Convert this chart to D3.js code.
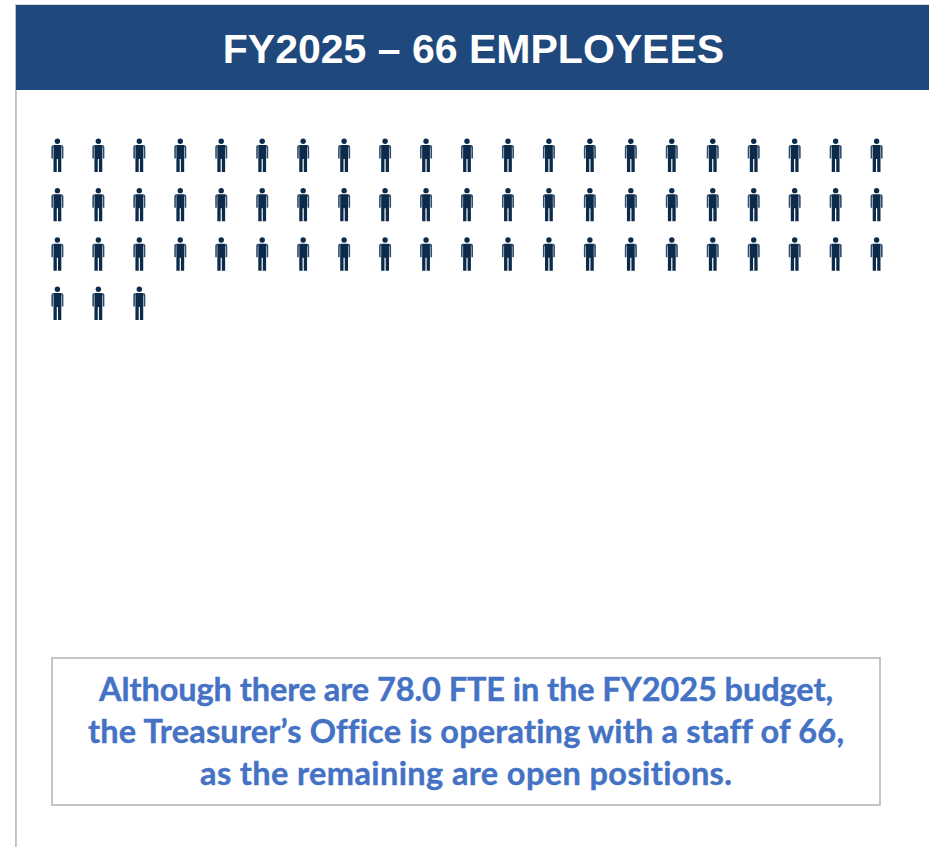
<!DOCTYPE html>
<html lang="en">
<head>
    <meta charset="UTF-8">
    <title>FY2025 Employees</title>
    <script src="https://cdnjs.cloudflare.com/ajax/libs/d3/7.8.5/d3.min.js"></script>
    <style>
        html, body { margin: 0; padding: 0; background: #fff; overflow: hidden; }
        svg { display: block; }
    </style>
</head>
<body>
    <script>
        const title = 'FY2025 \u2013 66 EMPLOYEES';
        const employees = 66;
        const perRow = 21;
        const noteLines = [
            'Although there are 78.0 FTE in the FY2025 budget,',
            'the Treasurer\u2019s Office is operating with a staff of 66,',
            'as the remaining are open positions.'
        ];

        const width = 929;
        const height = 847;
        // measured widths of the note lines, Lato runs a bit different from the original font
        const noteLengths = [734, 756, 532];

        const svg = d3.select('body').append('svg')
            .attr('width', width)
            .attr('height', height);

        // panel outline, only left and top show
        svg.append('rect').attr('x', 15).attr('y', 4).attr('width', width - 15).attr('height', 1).attr('fill', '#d9d9d9');
        svg.append('rect').attr('x', 15).attr('y', 4).attr('width', 1.8).attr('height', height - 4).attr('fill', '#bfbfbf');

        // header
        svg.append('rect').attr('x', 16).attr('y', 5).attr('width', width - 16).attr('height', 85).attr('fill', '#1f497d');
        svg.append('text')
            .attr('x', 473.5).attr('y', 63)
            .attr('text-anchor', 'middle')
            .attr('font-family', '"Liberation Sans", Arial, sans-serif')
            .attr('font-weight', 700)
            .attr('font-size', 41)
            .attr('fill', '#fff')
            .text(title);

        // pictogram
        const people = d3.range(employees);
        const x = d3.scaleLinear().domain([0, perRow - 1]).range([57.4, 876.6]);
        const y = d3.scaleLinear().domain([0, 3]).range([138, 286]);

        const person = svg.append('g').selectAll('g')
            .data(people)
            .enter()
            .append('g')
            .attr('transform', d => `translate(${x(d % perRow)},${y(Math.floor(d / perRow))})`)
            .attr('fill', '#0c2a4a');

        person.append('circle').attr('cx', 0).attr('cy', 3.3).attr('r', 2.7);
        // body and legs, local units from head top
        person.append('path')
            .attr('d', 'M-3.9,7 H3.9 V34 H0.6 V21 H-0.6 V34 H-3.9 Z');
        // arms are paler in the reference, the small gaps blur into them
        person.append('path')
            .attr('fill', '#2f4d6e')
            .attr('d', 'M3.9,7 Q6,7 6,9 V20.5 H4.4 V9.5 H3.9 Z M-3.9,7 Q-6,7 -6,9 V20.5 H-4.4 V9.5 H-3.9 Z');

        // note box
        svg.append('rect')
            .attr('x', 52).attr('y', 658)
            .attr('width', 828).attr('height', 147)
            .attr('fill', '#fff')
            .attr('stroke', '#bfbfbf')
            .attr('stroke-width', 1.8);

        svg.append('g').selectAll('text')
            .data(noteLines)
            .enter()
            .append('text')
            .attr('x', 466)
            .attr('y', (d, i) => 701 + i * 42)
            .attr('text-anchor', 'middle')
            .attr('font-family', 'Lato, "Open Sans", sans-serif')
            .attr('font-weight', 700)
            .attr('font-size', 32.5)
            .attr('textLength', (d, i) => noteLengths[i])
            .attr('lengthAdjust', 'spacing')
            .attr('fill', '#4472c4')
            .attr('stroke', '#4472c4')
            .attr('stroke-width', 0.4)
            .style('font-variant-ligatures', 'none')
            .text(d => d);
    </script>
</body>
</html>
